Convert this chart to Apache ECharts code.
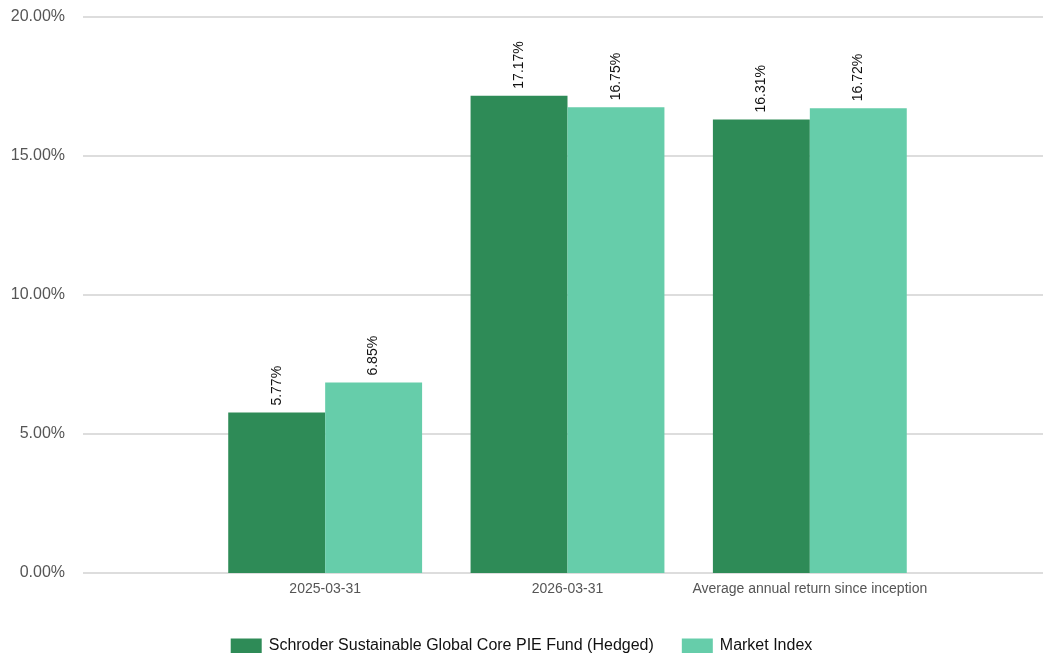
<!DOCTYPE html>
<html>
<head>
<meta charset="utf-8">
<script src="https://cdn.jsdelivr.net/npm/echarts@6/dist/echarts.min.js"></script>
<style>
  html, body { margin: 0; padding: 0; background: #fff; }
  #chart { width: 1043px; height: 653px; }
</style>
</head>
<body>
<div id="chart"></div>
<script>
const categories = ['2025-03-31', '2026-03-31', 'Average annual return since inception']
const fundName = 'Schroder Sustainable Global Core PIE Fund (Hedged)'
const indexName = 'Market Index'
const fundValues = [5.77, 17.17, 16.31]
const indexValues = [6.85, 16.75, 16.72]
const yTicks = [0, 5, 10, 15, 20]

const chart = echarts.init(document.getElementById('chart'))

const font = 'Liberation Sans, Arial, sans-serif'

const barLabel = {
  show: true,
  position: 'top',
  rotate: 90,
  align: 'left',
  verticalAlign: 'middle',
  distance: 7,
  color: '#111',
  fontSize: 14,
  fontFamily: font,
  formatter: p => p.value.toFixed(2) + '%',
}

const option = {
  animation: false,
  textStyle: { fontFamily: font },
  grid: [
    { left: 83, right: 0, top: 17, bottom: 80 },
    { left: 204, right: 112, top: 17, bottom: 80 },
  ],
  legend: {
    top: 633,
    left: 'center',
    itemWidth: 31,
    itemHeight: 15,
    itemGap: 28,
    icon: 'rect',
    textStyle: { color: '#111', fontSize: 16, fontFamily: font, padding: [0, 0, 0, 2] },
    data: [fundName, indexName],
  },
  xAxis: [
    {
      type: 'category',
      gridIndex: 0,
      data: [''],
      show: false,
    },
    {
      type: 'category',
      gridIndex: 1,
      data: categories,
      axisLine: { show: false },
      axisTick: { show: false },
      axisLabel: { color: '#555', fontSize: 14, margin: 9, interval: 0 },
    },
  ],
  yAxis: [
    {
      type: 'value',
      gridIndex: 0,
      min: yTicks[0],
      max: yTicks[yTicks.length - 1],
      interval: 5,
      axisLine: { show: false },
      axisTick: { show: false },
      axisLabel: {
        color: '#555',
        fontSize: 16,
        margin: 18,
        formatter: v => v.toFixed(2) + '%',
      },
      splitLine: { lineStyle: { color: '#dddddd', width: 2 } },
    },
    {
      type: 'value',
      gridIndex: 1,
      min: yTicks[0],
      max: yTicks[yTicks.length - 1],
      show: false,
      splitLine: { show: false },
    },
  ],
  series: [
    {
      name: fundName,
      type: 'bar',
      xAxisIndex: 1,
      yAxisIndex: 1,
      data: fundValues,
      barGap: '0%',
      barCategoryGap: '20%',
      itemStyle: { color: '#2e8b57' },
      label: barLabel,
    },
    {
      name: indexName,
      type: 'bar',
      xAxisIndex: 1,
      yAxisIndex: 1,
      data: indexValues,
      barGap: '0%',
      barCategoryGap: '20%',
      itemStyle: { color: '#66cdaa' },
      label: barLabel,
    },
  ],
}

chart.setOption(option)
</script>
</body>
</html>
